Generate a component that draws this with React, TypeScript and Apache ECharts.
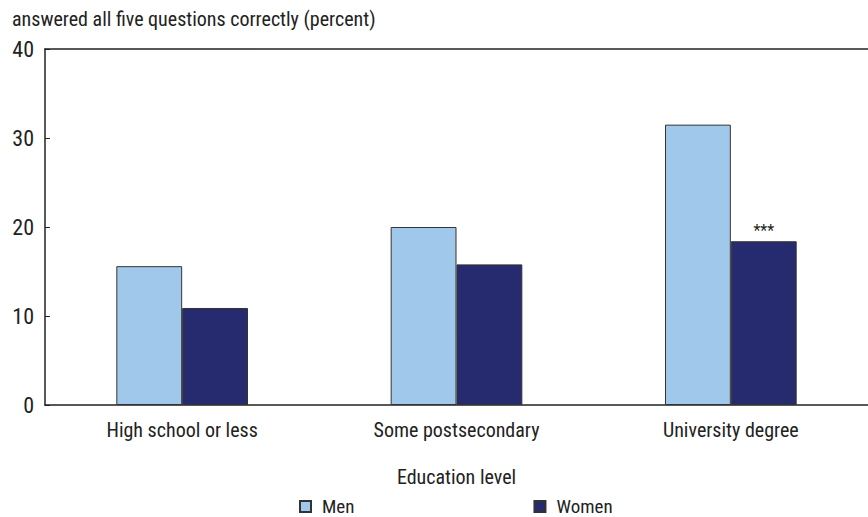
import React, { useEffect, useRef } from "react";
import * as echarts from "echarts";

const categories = ["High school or less", "Some postsecondary", "University degree"];
const menValues = [15.6, 20.0, 31.5];
const womenValues = [10.9, 15.8, 18.4];
const womenMarks = ["", "", "***"];
const yTicks = { min: 0, max: 40, interval: 10 };

const FONT = "'Liberation Sans Narrow', 'Arial Narrow', 'Roboto Condensed', 'Liberation Sans', sans-serif";
const INK = "#222";

export default function App() {
  const ref = useRef<HTMLDivElement>(null);

  useEffect(() => {
    if (!ref.current) return;
    const chart = echarts.init(ref.current, null, { renderer: "svg" });
    chart.setOption({
      animation: false,
      textStyle: { fontFamily: FONT, color: INK },
      title: {
        text: "answered all five questions correctly (percent)",
        left: 12,
        top: 9,
        padding: 0,
        textStyle: { fontFamily: FONT, fontSize: 20, fontWeight: "normal", color: INK },
      },
      grid: { left: 45, right: 0, top: 49, bottom: 112, containLabel: false },
      legend: {
        top: 497,
        left: 299,
        padding: 0,
        itemWidth: 11,
        itemHeight: 11,
        itemGap: 179,
        icon: "rect",
        textStyle: {
          fontFamily: FONT,
          fontSize: 19,
          lineHeight: 19,
          color: INK,
          padding: [0, 0, 0, 6],
        },
        data: ["Men", "Women"],
      },
      xAxis: [
        {
          type: "category",
          data: categories,
          name: "Education level",
          nameLocation: "middle",
          nameGap: 62,
          nameTextStyle: { fontFamily: FONT, fontSize: 20, color: INK },
          axisLine: { lineStyle: { color: INK, width: 1.5 } },
          axisTick: { show: false },
          axisLabel: { fontFamily: FONT, fontSize: 20, color: INK, margin: 15 },
        },
        {
          type: "category",
          data: categories,
          position: "top",
          axisLine: { lineStyle: { color: INK, width: 1.5 } },
          axisTick: { show: false },
          axisLabel: { show: false },
        },
      ],
      yAxis: {
        type: "value",
        min: yTicks.min,
        max: yTicks.max,
        interval: yTicks.interval,
        axisLine: { show: true, lineStyle: { color: INK, width: 1.5 } },
        axisTick: { show: true, inside: true, length: 5, lineStyle: { color: INK } },
        axisLabel: { fontFamily: FONT, fontSize: 22, color: INK, margin: 11 },
        splitLine: { show: false },
      },
      series: [
        {
          name: "Men",
          type: "bar",
          data: menValues,
          barGap: "0%",
          barCategoryGap: "52%",
          itemStyle: { color: "#a0c8ea", borderColor: "#333", borderWidth: 1 },
        },
        {
          name: "Women",
          type: "bar",
          data: womenValues,
          itemStyle: { color: "#262a6f", borderColor: "#333", borderWidth: 1 },
          label: {
            show: true,
            position: "top",
            distance: 3,
            fontFamily: FONT,
            fontSize: 16,
            color: INK,
            formatter: (p: any) => womenMarks[p.dataIndex],
          },
        },
      ],
    });
    return () => chart.dispose();
  }, []);

  return (
    <div
      ref={ref}
      style={{ position: "absolute", left: 0, top: 0, width: 868, height: 517 }}
    />
  );
}
